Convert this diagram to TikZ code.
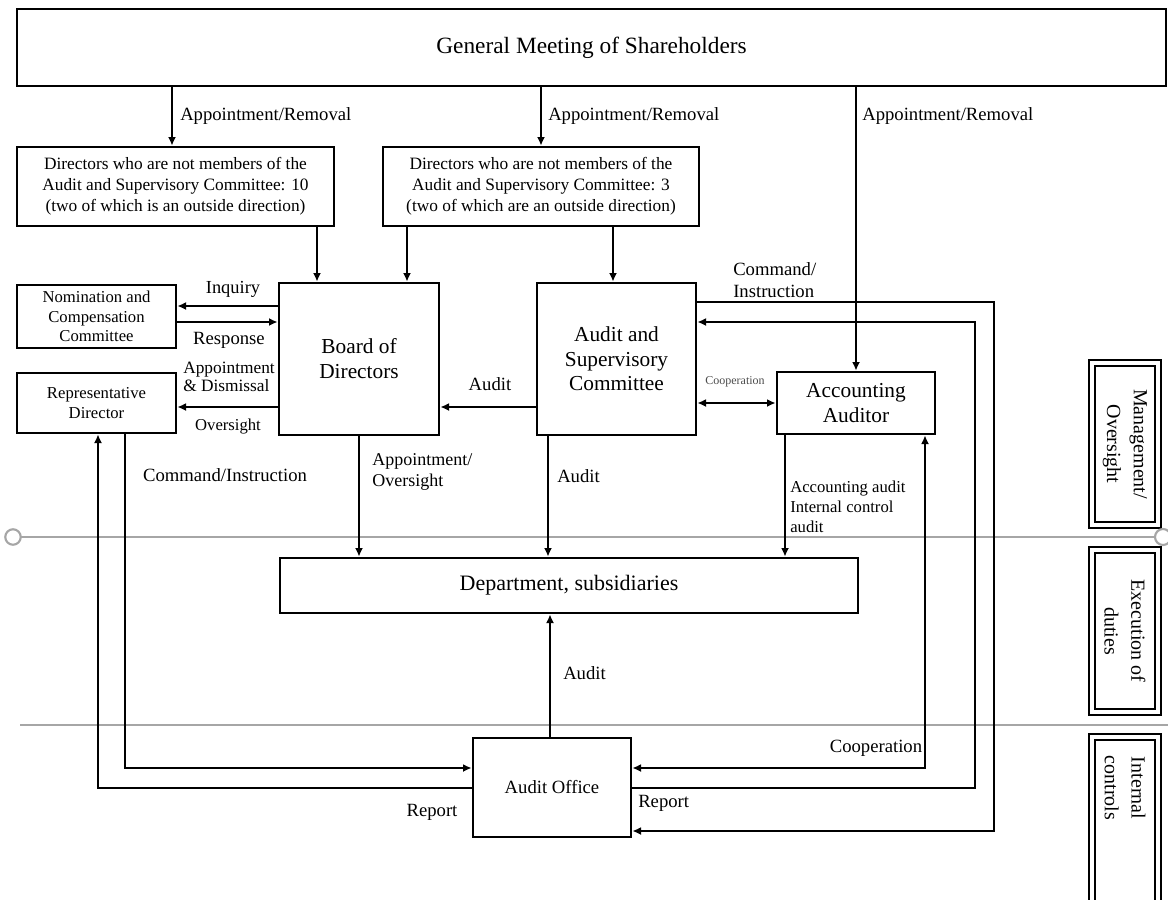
\documentclass[tikz,border=0pt]{standalone}
\usepackage{fontspec}
\setmainfont{Liberation Serif}
\usetikzlibrary{arrows.meta}
\newcommand{\fsz}[2]{\fontsize{#1}{#2}\selectfont}
\begin{document}
\begin{tikzpicture}[x=0.75pt,y=-0.75pt,
 box/.style={draw, line width=2pt, align=center, inner sep=0pt, fill=white},
 lab/.style={inner sep=0pt, align=left},
 arr/.style={line width=1.9pt, -{Latex[length=6.5pt,width=6pt]}},
 darr/.style={line width=1.9pt, {Latex[length=6.5pt,width=6pt]}-{Latex[length=6.5pt,width=6pt]}},
 rbox/.style={draw, double, double distance=2.3pt, line width=1.9pt, minimum width=49.5pt, inner sep=0pt},
 guide/.style={draw=gray!70, line width=1.1pt}
]
\useasboundingbox (0,0) rectangle (1168,900);
\clip (0,0) rectangle (1168,900);

% guide lines
\draw[guide] (21,537) -- (1155,537);
\draw[guide] (20,725) -- (1168,725);
\draw[guide, line width=1.6pt] (13,537) circle[radius=5.8pt];

% main boxes
\node[box, minimum width=861.75pt, minimum height=57.75pt, font=\fsz{17.5}{20}] (GM) at (591.5,47.5) {General Meeting of Shareholders};
\node[box, minimum width=237.75pt, minimum height=59.25pt, font=\fsz{13}{15.75}] (D1) at (175.5,186.5) {Directors who are not members of the\\Audit and Supervisory Committee: 10\\(two of which is an outside direction)};
\node[box, minimum width=237pt, minimum height=59.25pt, font=\fsz{13}{15.75}] (D2) at (541,186.5) {Directors who are not members of the\\Audit and Supervisory Committee: 3\\(two of which are an outside direction)};
\node[box, minimum width=119.25pt, minimum height=47.25pt, font=\fsz{12.5}{14.5}] (Nom) at (96.5,316.5) {Nomination and\\Compensation\\Committee};
\node[box, minimum width=119.25pt, minimum height=45pt, font=\fsz{12.5}{15}] (Rep) at (96.5,403) {Representative\\Director};
\node[box, minimum width=120pt, minimum height=114pt, font=\fsz{16}{18.75}] (Board) at (359,359) {Board of\\Directors};
\node[box, minimum width=119.25pt, minimum height=114pt, font=\fsz{16}{18.5}] (ASC) at (616.5,359) {Audit and\\Supervisory\\Committee};
\node[box, minimum width=118.5pt, minimum height=46.5pt, font=\fsz{16}{18.5}] (AccAud) at (856,403) {Accounting\\Auditor};
\node[box, minimum width=433.5pt, minimum height=41.25pt, font=\fsz{16.5}{19}] (Dept) at (569,585.5) {Department, subsidiaries};
\node[box, minimum width=118.5pt, minimum height=74.25pt, font=\fsz{14}{16}] (AO) at (552,787.5) {Audit Office};

% right column boxes
\node[rbox, minimum height=121.5pt] (RB1) at (1125,444) {};
\node[rbox, minimum height=121.5pt] (RB2) at (1125,631) {};
\node[rbox, minimum height=167.25pt] (RB3) at (1125,848.5) {};
\node[rotate=-90, align=center, inner sep=0pt, font=\fsz{15}{20}] (T1) at (1125,444) {Management/\\Oversight};
\node[rotate=-90, align=center, inner sep=0pt, font=\fsz{15}{20}] (T2) at (1125,631) {Execution of\\duties};
\node[rotate=-90, align=center, inner sep=0pt, font=\fsz{15}{20}] (T3) at (1125,788) {Internal\\controls};
\draw[guide, line width=1.6pt, fill=white] (1163,537) circle[radius=6pt];

% helper coordinates
\coordinate (xG1) at (172,0);
\coordinate (xD1) at (317,0);
\coordinate (xD2a) at (407,0);
\coordinate (xD2b) at (613,0);
\coordinate (xA1) at (548,0);
\coordinate (xAA) at (785,0);
\coordinate (xAO) at (550,0);
\coordinate (xL1) at (98,0);
\coordinate (xL2) at (125,0);
\coordinate (xCo) at (925,0);
\coordinate (xR1) at (975,0);
\coordinate (xR2) at (994,0);
\coordinate (yInq) at (0,306);
\coordinate (yRes) at (0,322);
\coordinate (yApp) at (0,407);
\coordinate (yCmd) at (0,302);
\coordinate (yAOa) at (0,768);
\coordinate (yAOb) at (0,788);
\coordinate (yAOc) at (0,831);

% connectors
\draw[arr] (GM.south -| xG1) -- (D1.north -| xG1);
\draw[arr] (GM.south -| D2.north) -- (D2.north);
\draw[arr] (GM.south -| AccAud.north) -- (AccAud.north);
\draw[arr] (D1.south -| xD1) -- (Board.north -| xD1);
\draw[arr] (D2.south -| xD2a) -- (Board.north -| xD2a);
\draw[arr] (D2.south -| xD2b) -- (ASC.north -| xD2b);
\draw[arr] (Board.west |- yInq) -- (Nom.east |- yInq);
\draw[arr] (Nom.east |- yRes) -- (Board.west |- yRes);
\draw[arr] (Board.west |- yApp) -- (Rep.east |- yApp);
\draw[arr] (ASC.west |- yApp) -- (Board.east |- yApp);
\draw[darr] (ASC.east |- AccAud.west) -- (AccAud.west);
\draw[arr] (Board.south) -- (Dept.north -| Board.south);
\draw[arr] (ASC.south -| xA1) -- (Dept.north -| xA1);
\draw[arr] (AccAud.south -| xAA) -- (Dept.north -| xAA);
\draw[arr] (AO.north -| xAO) -- (Dept.south -| xAO);
\draw[arr] (Rep.south -| xL2) |- (AO.west |- yAOa);
\draw[arr] (AO.west |- yAOb) -| (Rep.south -| xL1);
\draw[arr] (ASC.east |- yCmd) -| (xR2 |- yAOc) -- (AO.east |- yAOc);
\draw[arr] (AO.east |- yAOb) -| (xR1 |- yRes) -- (ASC.east |- yRes);
\draw[darr] (AO.east |- yAOa) -| (AccAud.south -| xCo);

% labels
\node[lab, anchor=west, font=\fsz{14}{16}] (L1) at (180,116) {Appointment/Removal};
\node[lab, anchor=west, font=\fsz{14}{16}] (L2) at (548,116) {Appointment/Removal};
\node[lab, anchor=west, font=\fsz{14}{16}] (L3) at (862,116) {Appointment/Removal};
\node[lab, font=\fsz{13.8}{16}] (Linq) at (233,289) {Inquiry};
\node[lab, font=\fsz{14}{16}] (Lres) at (229,340) {Response};
\node[lab, anchor=west, font=\fsz{13}{13.5}] (Lapp) at (183,377) {Appointment\\\& Dismissal};
\node[lab, font=\fsz{12.5}{14}] (Lover) at (228,427) {Oversight};
\node[lab, font=\fsz{14}{16}] (Laud1) at (490,384) {Audit};
\node[lab, font=\fsz{9}{10}, text=black!70] (Lcoop1) at (735,382) {Cooperation};
\node[lab, anchor=west, font=\fsz{14}{17}] (Lcmd1) at (733,280) {Command/\\Instruction};
\node[lab, font=\fsz{14}{16}] (Lcmd2) at (225,475) {Command/Instruction};
\node[lab, anchor=west, font=\fsz{13.5}{15.75}] (Lappov) at (372,472) {Appointment/\\Oversight};
\node[lab, anchor=west, font=\fsz{14}{16}] (Laud2) at (557,476) {Audit};
\node[lab, anchor=west, font=\fsz{12.5}{15}] (Lacc) at (790,507) {Accounting audit\\Internal control\\audit};
\node[lab, anchor=west, font=\fsz{14}{16}] (Laud3) at (563,673) {Audit};
\node[lab, font=\fsz{14}{16}] (Lcoop2) at (876,748) {Cooperation};
\node[lab, font=\fsz{14}{16}] (Lrep1) at (432,812) {Report};
\node[lab, anchor=west, font=\fsz{14}{16}] (Lrep2) at (638,803) {Report};
\end{tikzpicture}
\end{document}
